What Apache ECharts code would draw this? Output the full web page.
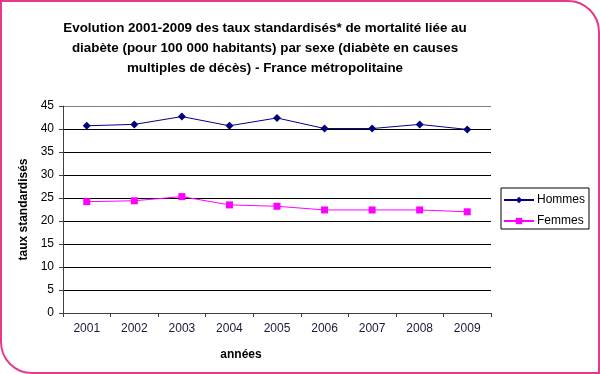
<!DOCTYPE html>
<html>
<head>
<meta charset="utf-8">
<script src="https://cdn.jsdelivr.net/npm/echarts@6/dist/echarts.min.js"></script>
<style>
html,body{margin:0;padding:0;background:#fff;}
#frame{position:absolute;left:0;top:0;width:600px;height:374px;box-sizing:border-box;border:2px solid #e8388a;border-radius:0 32px 0 32px;background:#fff;}
#chart{position:absolute;left:0;top:0;width:600px;height:374px;}
</style>
</head>
<body>
<div id="frame"></div>
<div id="chart"></div>
<script>
const years = ['2001','2002','2003','2004','2005','2006','2007','2008','2009'];
const hommes = [40.7, 41.0, 42.7, 40.7, 42.4, 40.1, 40.1, 41.0, 39.9];
const femmes = [24.2, 24.4, 25.3, 23.5, 23.2, 22.4, 22.4, 22.4, 22.0];
const titleText = 'Evolution 2001-2009 des taux standardisés* de mortalité liée au\ndiabète (pour 100 000 habitants) par sexe (diabète en causes\nmultiples de décès) - France métropolitaine';

const chart = echarts.init(document.getElementById('chart'), null, {renderer:'canvas'});
const font = 'Arial, "Liberation Sans", sans-serif';
chart.setOption({
  backgroundColor: 'transparent',
  animation: false,
  title: {
    text: titleText,
    left: 260, top: 13, textAlign: 'center',
    textStyle: {fontFamily: font, fontSize: 13.4, fontWeight: 'bold', color: '#000', lineHeight: 20}
  },
  legend: {
    orient: 'vertical', left: 501, top: 188,
    data: ['Hommes','Femmes'],
    borderColor: '#000', borderWidth: 1, padding: [6,4,2,2], itemGap: 9,
    itemWidth: 30, itemHeight: 8,
    textStyle: {fontFamily: font, fontSize: 12, color: '#000', padding: [0,0,0,-2]}
  },
  grid: {left: 63, right: 109, top: 106, bottom: 61, containLabel: false},
  xAxis: {
    type: 'category', data: years, boundaryGap: true,
    name: 'années', nameLocation: 'middle', nameGap: 36,
    nameTextStyle: {fontFamily: font, fontSize: 12, fontWeight: 'bold', color: '#000', padding: [0,72,0,0]},
    axisLine: {lineStyle: {color: '#404040', width: 1}},
    axisTick: {show: true, alignWithLabel: false, length: 4, lineStyle: {color: '#404040'}},
    axisLabel: {fontFamily: font, fontSize: 12, color: '#1a1a3a', margin: 10}
  },
  yAxis: {
    type: 'value', min: 0, max: 45, interval: 5,
    name: 'taux standardisés', nameLocation: 'middle', nameGap: 28, nameRotate: 90,
    nameTextStyle: {fontFamily: font, fontSize: 12, fontWeight: 'bold', color: '#000'},
    axisLine: {show: true, lineStyle: {color: '#404040', width: 1}},
    axisTick: {show: true, length: 4, lineStyle: {color: '#404040'}},
    axisLabel: {fontFamily: font, fontSize: 12, color: '#000', margin: 9},
    splitLine: {show: true, lineStyle: {color: ['#000','#000','#000','#000','#000','#000','#000','#000','#000','#808080'], width: 1}}
  },
  series: [
    {name: 'Hommes', type: 'line', data: hommes, symbol: 'diamond', symbolSize: 8,
     itemStyle: {color: '#000080'}, lineStyle: {color: '#000080', width: 1}},
    {name: 'Femmes', type: 'line', data: femmes, symbol: 'rect', symbolSize: 7,
     itemStyle: {color: '#ff00ff'}, lineStyle: {color: '#ff00ff', width: 1}}
  ]
});
</script>
</body>
</html>
